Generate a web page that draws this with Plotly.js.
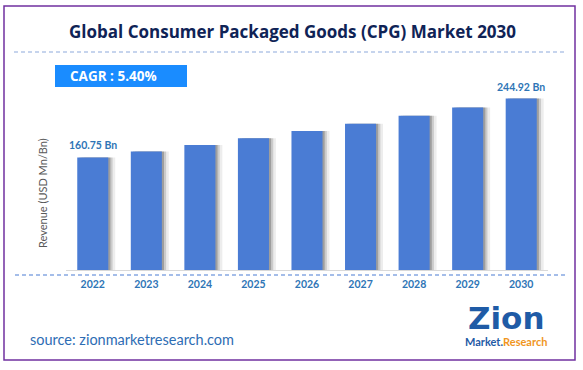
<!DOCTYPE html>
<html>
<head>
<meta charset="utf-8">
<script src="https://cdn.plot.ly/plotly-3.0.1.min.js"></script>
<style>html,body{margin:0;padding:0;background:#fff;}#chart{width:583px;height:370px;}</style>
</head>
<body>
<div id="chart"></div>
<script>
// Data
const years = ["2022","2023","2024","2025","2026","2027","2028","2029","2030"];
const revenue = [160.75, 169.4, 178.6, 188.2, 198.4, 209.1, 220.4, 232.3, 244.92];
const valueLabels = ["160.75 Bn", "", "", "", "", "", "", "", "244.92 Bn"];
const chartTitle = "Global Consumer Packaged Goods (CPG) Market 2030";
const cagrText = "CAGR : 5.40%";
const yTitle = "Revenue (USD Mn/Bn)";
const sourceText = "source: zionmarketresearch.com";

const W = 583, H = 370;
const M = {l: 66, r: 35, t: 95, b: 100};
const PW = W - M.l - M.r, PH = H - M.t - M.b;
const px = x => (x - M.l) / PW;
const py = y => (H - M.b - y) / PH;

const barW = 0.58;
const barColor = "#4A7CD4";

const traces = [
  {type: "bar", x: years, y: revenue, width: barW, offset: -barW/2 + 0.13,
   marker: {color: "rgba(0,0,0,0.07)"}, hoverinfo: "skip", showlegend: false},
  {type: "bar", x: years, y: revenue, width: barW, offset: -barW/2 + 0.08,
   marker: {color: "rgba(0,0,0,0.14)"}, hoverinfo: "skip", showlegend: false},
  {type: "bar", x: years, y: revenue, width: barW, offset: -barW/2 + 0.04,
   marker: {color: "rgba(0,0,0,0.22)"}, hoverinfo: "skip", showlegend: false},
  {type: "bar", x: years, y: revenue, width: barW, offset: -barW/2,
   marker: {color: barColor}, showlegend: false}
];

function paperText(text, xp, yp, font, opts) {
  return Object.assign({text: text, xref: "paper", yref: "paper", x: px(xp), y: py(yp),
    xanchor: "center", yanchor: "middle", showarrow: false, font: font}, opts || {});
}

const annotations = [
  paperText("<b>" + chartTitle + "</b>", 292, 32,
    {family: "'Open Sans', sans-serif", size: 17, color: "#0F2356"}),
  paperText("<b>" + cagrText + "</b>", 68, 76,
    {family: "'Open Sans', sans-serif", size: 13.5, color: "#ffffff"}, {xanchor: "left"}),
  paperText(yTitle, 42, 193,
    {family: "Lato, sans-serif", size: 11, color: "#595959"}, {textangle: -90}),
  paperText(sourceText, 28, 339,
    {family: "Lato, sans-serif", size: 14.5, color: "#2E6DB4"}, {xanchor: "left"}),
  paperText("<b>Zion</b>", 506, 318,
    {family: "'DejaVu Sans', sans-serif", size: 31, color: "#1F5BA6"}),
  paperText("<b><span style='color:#1F5BA6'>Market.</span><span style='color:#F0961E'>Research</span></b>", 506, 341,
    {family: "Lato, sans-serif", size: 11, color: "#1F5BA6"})
];
years.forEach((yr, i) => {
  if (valueLabels[i]) {
    annotations.push({text: "<b>" + valueLabels[i] + "</b>", x: i, y: revenue[i], xref: "x", yref: "y",
      xanchor: "center", yanchor: "bottom", yshift: 4, showarrow: false,
      font: {family: "Lato, sans-serif", size: 10.5, color: "#2E75B6"}});
  }
});

const shapes = [
  {type: "rect", xref: "paper", yref: "paper", x0: px(4), x1: px(575), y0: py(6), y1: py(360),
   line: {color: "#7030A0", width: 1.5}, fillcolor: "rgba(0,0,0,0)", layer: "below"},
  {type: "line", xref: "paper", yref: "paper", x0: px(14), x1: px(565), y0: py(52), y1: py(52),
   line: {color: "#8EA9DB", width: 1.2, dash: "4px,3px"}},
  {type: "line", xref: "paper", yref: "paper", x0: px(15), x1: px(565), y0: py(275), y1: py(275),
   line: {color: "#4A7CD4", width: 1.2, dash: "4px,3px"}},
  {type: "rect", xref: "paper", yref: "paper", x0: px(55), x1: px(187), y0: py(65), y1: py(87),
   line: {width: 0}, fillcolor: "#1A8CFF", layer: "below"}
];

const layout = {
  width: W, height: H, margin: M,
  paper_bgcolor: "#ffffff", plot_bgcolor: "rgba(0,0,0,0)",
  barmode: "overlay", showlegend: false,
  xaxis: {type: "category", range: [-0.5, 8.5], showline: true, linecolor: "#D9D9D9", linewidth: 1,
    ticks: "", showgrid: false, zeroline: false, fixedrange: true, ticklabelstandoff: 4,
    tickfont: {family: "Lato, sans-serif", size: 10.5, color: "#2E75B6", weight: "bold"}},
  yaxis: {range: [0, 250], showticklabels: false, showgrid: false, zeroline: false, ticks: "",
    showline: false, fixedrange: true},
  annotations: annotations, shapes: shapes
};

Plotly.newPlot("chart", traces, layout, {displayModeBar: false, staticPlot: true});
</script>
</body>
</html>
